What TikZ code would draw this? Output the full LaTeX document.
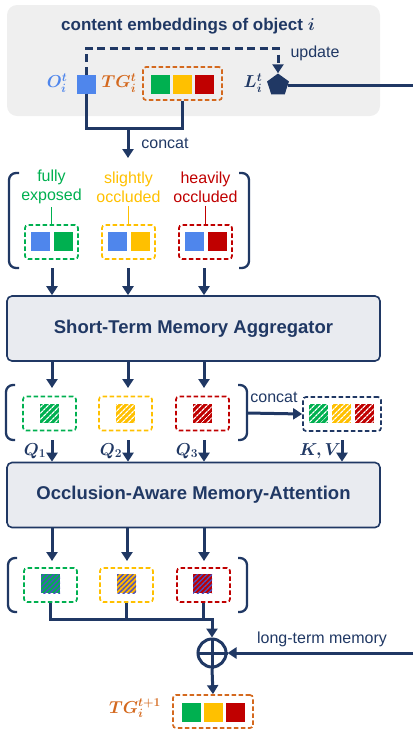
\documentclass[tikz,border=0pt]{standalone}
\usepackage{fontspec}
\setmainfont{Liberation Sans}
\usepackage{bm}
\DeclareMathSizes{17}{17}{13}{10}
\usetikzlibrary{arrows.meta,shapes.geometric,patterns.meta}
\definecolor{navy}{HTML}{203864}
\definecolor{bggray}{HTML}{EFEFEF}
\definecolor{boxfill}{HTML}{E9EBF0}
\definecolor{cgreen}{HTML}{00B050}
\definecolor{cyellow}{HTML}{FFC000}
\definecolor{cred}{HTML}{C00000}
\definecolor{oblue}{HTML}{4F86EC}
\definecolor{corange}{HTML}{D4691E}
\definecolor{hatchblue}{HTML}{4B50C0}
\begin{document}
\begin{tikzpicture}[x=1pt,y=-1pt,
  sq/.style={minimum size=19pt,inner sep=0pt,outer sep=0pt},
  dbox/.style={draw,line width=1.7pt,dash pattern=on 4.5pt off 2.5pt,rounded corners=3pt,minimum width=53pt,minimum height=34pt,inner sep=0pt},
  ln/.style={draw=navy,line width=3pt},
  arr/.style={draw=navy,line width=3pt,-{Triangle[width=11pt,length=9pt]}},
  brk/.style={draw=navy,line width=2.3pt,rounded corners=7pt},
  mainbox/.style={draw=navy,line width=1.6pt,fill=boxfill,rounded corners=5pt,minimum width=373pt,minimum height=65pt,inner sep=0pt,font=\fontsize{18.5}{20}\selectfont\bfseries,text=navy},
  lbl/.style={font=\fontsize{16}{19}\selectfont,align=center},
  mlbl/.style={font=\fontsize{17}{19}\selectfont,inner sep=0pt},
  hat/.style={postaction={pattern={Lines[angle=45,distance=4pt,line width=1.2pt]},pattern color=white}},
  xhat/.style={postaction={pattern={Lines[angle=45,distance=3.5pt,line width=1.4pt]},pattern color=hatchblue}},
]
\useasboundingbox (0,0) rectangle (413,732);

% ---------- top: content embeddings ----------
\node[fill=bggray,rounded corners=10pt,minimum width=373pt,minimum height=111pt,inner sep=0pt] (bg) at (193.5,60.5) {};
\node[font=\fontsize{17}{19}\selectfont\bfseries,text=navy] (title) at (188,26) {content embeddings of object $\bm{i}$};
\node[sq,fill=oblue] (O) at (86,84) {};
\node[mlbl,text=oblue] (Olab) at (57,83) {$\bm{O_i^t}$};
\node[dbox,draw=corange,minimum width=79pt,minimum height=33pt] (TG) at (182.5,83.5) {};
\node[sq,fill=cgreen] (TGg) at (160,84) {};
\node[sq,fill=cyellow] (TGy) at (182,84) {};
\node[sq,fill=cred] (TGr) at (204,84) {};
\node[mlbl,text=corange] (TGlab) at (119,83) {$\bm{TG_i^t}$};
\node[regular polygon,regular polygon sides=5,fill=navy,minimum size=23pt,inner sep=0pt] (L) at (278,85) {};
\node[mlbl,text=navy] (Llab) at (253,83) {$\bm{L_i^t}$};
\coordinate (u1) at (86,48);
\coordinate (u2) at (278,48);
\draw[arr,dash pattern=on 8pt off 4.5pt] (O.north) -- (u1) -- (u2) -- (L.north);
\node[lbl,text=navy] (upd) at (315,53) {update};
\coordinate (Rtop) at (413,85);
\draw[ln] (L) -- (Rtop);
\coordinate (cj) at (128,128);
\coordinate (cjE) at (128,158);
\draw[ln] (O.south) |- (cj) -| (TG.south);
\draw[arr] (cj) -- (cjE);
\node[lbl,text=navy] (cc1) at (165,143) {concat};

% ---------- group 1 ----------
\draw[brk] (19,173) -- (9,173) -- (9,268) -- (19,268);
\draw[brk] (239,173) -- (249,173) -- (249,268) -- (239,268);
\node[lbl,text=cgreen] (t1) at (51.5,187) {fully\\exposed};
\node[lbl,text=cyellow] (t2) at (128.5,187) {slightly\\occluded};
\node[lbl,text=cred] (t3) at (205.5,187) {heavily\\occluded};
\node[dbox,draw=cgreen] (b1) at (51.5,242) {};
\node[sq,fill=oblue] (b1a) at (40.5,241.5) {};
\node[sq,fill=cgreen] (b1b) at (63.5,241.5) {};
\node[dbox,draw=cyellow] (b2) at (128.5,242) {};
\node[sq,fill=oblue] (b2a) at (117.5,241.5) {};
\node[sq,fill=cyellow] (b2b) at (140,241.5) {};
\node[dbox,draw=cred] (b3) at (205.5,242) {};
\node[sq,fill=oblue] (b3a) at (194,241.5) {};
\node[sq,fill=cred] (b3b) at (217,241.5) {};
\draw[cgreen,line width=1pt] (t1.south) -- (b1.north);
\draw[cyellow,line width=1pt] (t2.south) -- (b2.north);
\draw[cred,line width=1pt] (t3.south) -- (b3.north);

\node[mainbox] (ST) at (193.5,328.5) {Short-Term Memory Aggregator};
\coordinate (d1) at (52,268);
\coordinate (d2) at (128,268);
\coordinate (d3) at (204,268);
\draw[arr] (d1) -- (d1 |- ST.north);
\draw[arr] (d2) -- (d2 |- ST.north);
\draw[arr] (d3) -- (d3 |- ST.north);

% ---------- group 2 ----------
\coordinate (e1) at (52,388);
\coordinate (e2) at (128,388);
\coordinate (e3) at (204,388);
\draw[arr] (e1 |- ST.south) -- (e1);
\draw[arr] (e2 |- ST.south) -- (e2);
\draw[arr] (e3 |- ST.south) -- (e3);
\draw[brk] (15,385) -- (6,385) -- (6,440) -- (15,440);
\draw[brk] (238,385) -- (247,385) -- (247,440) -- (238,440);
\node[dbox,draw=cgreen] (q1) at (49.5,413.5) {};
\node[sq,fill=cgreen,hat] (q1s) at (49,413) {};
\node[dbox,draw=cyellow] (q2) at (125.5,413.5) {};
\node[sq,fill=cyellow,hat] (q2s) at (125.5,413) {};
\node[dbox,draw=cred] (q3) at (202.5,413.5) {};
\node[sq,fill=cred,hat] (q3s) at (202,413) {};
\node[dbox,draw=navy,minimum width=78pt] (KV) at (342,414) {};
\node[sq,fill=cgreen,hat] (kv1) at (318.5,413) {};
\node[sq,fill=cyellow,hat] (kv2) at (341.5,413) {};
\node[sq,fill=cred,hat] (kv3) at (364,413) {};
\coordinate (k0) at (247,413);
\draw[arr] (k0) -- (KV.west);
\node[lbl,text=navy,inner sep=0pt] (cc2) at (274,397) {concat};

\node[mainbox] (OA) at (193.5,495) {Occlusion-Aware Memory-Attention};
\coordinate (f1) at (52,440);
\coordinate (f2) at (128,440);
\coordinate (f3) at (204,440);
\coordinate (f4) at (342,440);
\draw[arr] (f1) -- (f1 |- OA.north);
\draw[arr] (f2) -- (f2 |- OA.north);
\draw[arr] (f3) -- (f3 |- OA.north);
\draw[arr] (f4) -- (f4 |- OA.north);
\node[mlbl,text=navy] (Q1) at (35,451) {$\bm{Q_1}$};
\node[mlbl,text=navy] (Q2) at (111,451) {$\bm{Q_2}$};
\node[mlbl,text=navy] (Q3) at (187,451) {$\bm{Q_3}$};
\node[mlbl,text=navy] (KVl) at (320,451) {$\bm{K,V}$};

% ---------- group 3 ----------
\coordinate (g1) at (52,561);
\coordinate (g2) at (127,561);
\coordinate (g3) at (204,561);
\draw[arr] (g1 |- OA.south) -- (g1);
\draw[arr] (g2 |- OA.south) -- (g2);
\draw[arr] (g3 |- OA.south) -- (g3);
\draw[brk] (17,558) -- (8,558) -- (8,612) -- (17,612);
\draw[brk] (238,558) -- (247,558) -- (247,612) -- (238,612);
\node[dbox,draw=cgreen] (r1) at (50.5,585) {};
\node[sq,fill=cgreen,xhat] (r1s) at (50.5,583.5) {};
\node[dbox,draw=cyellow] (r2) at (126.5,585) {};
\node[sq,fill=cyellow!85!orange,xhat] (r2s) at (126.5,583.5) {};
\node[dbox,draw=cred] (r3) at (203.5,585) {};
\node[sq,fill=cred,xhat] (r3s) at (202.5,583.5) {};

\node[circle,draw=navy,line width=3pt,minimum size=28pt,inner sep=0pt] (plus) at (212,653) {};
\draw[ln] (plus.north) -- (plus.south);
\draw[ln] (plus.west) -- (plus.east);
\coordinate (h3) at (212,619);
\draw[arr] (r1.south) |- (h3) -- (plus.north);
\draw[ln] (r2.south) -- (r2.south |- h3);
\draw[ln] (r3.south) -- (r3.south |- h3);
\coordinate (Rbot) at (413,653);
\draw[arr] (Rbot) -- (plus.east);
\node[lbl,text=navy] (ltm) at (322,639) {long-term memory};

\node[dbox,draw=corange,minimum width=80pt,minimum height=33pt] (TG2) at (213,711.5) {};
\node[sq,fill=cgreen] (TG2g) at (191,712) {};
\node[sq,fill=cyellow] (TG2y) at (213,712) {};
\node[sq,fill=cred] (TG2r) at (235.5,712) {};
\draw[arr] (plus.south) -- (TG2.north);
\node[mlbl,text=corange] (TG2lab) at (135,708) {$\bm{TG_i^{t+1}}$};
\end{tikzpicture}
\end{document}
